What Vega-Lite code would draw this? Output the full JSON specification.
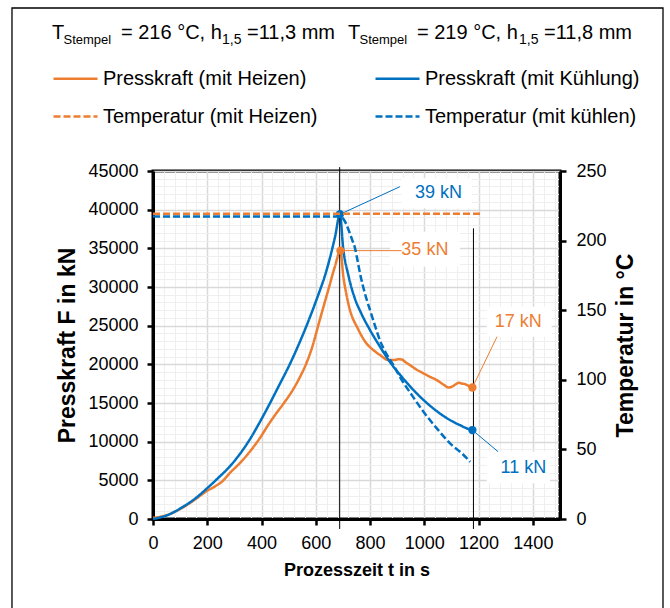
{
  "$schema": "https://vega.github.io/schema/vega-lite/v6.json",
  "width": 407,
  "height": 348,
  "autosize": {"type": "none"},
  "padding": {"left": 153, "top": 171, "right": 110, "bottom": 89},
  "background": "white",
  "config": {
    "font": "Liberation Sans",
    "view": {"stroke": "#000", "strokeWidth": 3},
    "axis": {
      "domainColor": "#000", "domainWidth": 3,
      "tickColor": "#000", "tickWidth": 2.5, "tickSize": 6,
      "labelColor": "#000", "labelFontSize": 18, "labelFont": "Liberation Sans",
      "titleColor": "#000", "titleFontWeight": "bold", "titleFont": "Liberation Sans"
    }
  },
  "datasets": {
    "curves": [
      {"s": "Presskraft (mit Heizen)", "t": 0, "v": 150},
      {"s": "Presskraft (mit Heizen)", "t": 50, "v": 500},
      {"s": "Presskraft (mit Heizen)", "t": 111, "v": 1500},
      {"s": "Presskraft (mit Heizen)", "t": 150, "v": 2400},
      {"s": "Presskraft (mit Heizen)", "t": 199, "v": 3630},
      {"s": "Presskraft (mit Heizen)", "t": 230, "v": 4250},
      {"s": "Presskraft (mit Heizen)", "t": 253, "v": 4790},
      {"s": "Presskraft (mit Heizen)", "t": 284, "v": 5980},
      {"s": "Presskraft (mit Heizen)", "t": 321, "v": 7260},
      {"s": "Presskraft (mit Heizen)", "t": 358, "v": 8760},
      {"s": "Presskraft (mit Heizen)", "t": 394, "v": 10470},
      {"s": "Presskraft (mit Heizen)", "t": 425, "v": 12180},
      {"s": "Presskraft (mit Heizen)", "t": 450, "v": 13460},
      {"s": "Presskraft (mit Heizen)", "t": 480, "v": 14870},
      {"s": "Presskraft (mit Heizen)", "t": 511, "v": 16450},
      {"s": "Presskraft (mit Heizen)", "t": 542, "v": 18380},
      {"s": "Presskraft (mit Heizen)", "t": 566, "v": 20200},
      {"s": "Presskraft (mit Heizen)", "t": 590, "v": 22600},
      {"s": "Presskraft (mit Heizen)", "t": 608, "v": 24900},
      {"s": "Presskraft (mit Heizen)", "t": 628, "v": 27400},
      {"s": "Presskraft (mit Heizen)", "t": 649, "v": 30000},
      {"s": "Presskraft (mit Heizen)", "t": 670, "v": 32600},
      {"s": "Presskraft (mit Heizen)", "t": 691, "v": 34700},
      {"s": "Presskraft (mit Heizen)", "t": 701, "v": 31500},
      {"s": "Presskraft (mit Heizen)", "t": 713, "v": 29000},
      {"s": "Presskraft (mit Heizen)", "t": 726, "v": 27000},
      {"s": "Presskraft (mit Heizen)", "t": 738, "v": 25800},
      {"s": "Presskraft (mit Heizen)", "t": 751, "v": 24900},
      {"s": "Presskraft (mit Heizen)", "t": 770, "v": 23600},
      {"s": "Presskraft (mit Heizen)", "t": 787, "v": 22700},
      {"s": "Presskraft (mit Heizen)", "t": 810, "v": 21900},
      {"s": "Presskraft (mit Heizen)", "t": 837, "v": 21200},
      {"s": "Presskraft (mit Heizen)", "t": 867, "v": 20550},
      {"s": "Presskraft (mit Heizen)", "t": 886, "v": 20550},
      {"s": "Presskraft (mit Heizen)", "t": 905, "v": 20650},
      {"s": "Presskraft (mit Heizen)", "t": 917, "v": 20630},
      {"s": "Presskraft (mit Heizen)", "t": 930, "v": 20300},
      {"s": "Presskraft (mit Heizen)", "t": 947, "v": 19900},
      {"s": "Presskraft (mit Heizen)", "t": 970, "v": 19350},
      {"s": "Presskraft (mit Heizen)", "t": 997, "v": 18830},
      {"s": "Presskraft (mit Heizen)", "t": 1020, "v": 18400},
      {"s": "Presskraft (mit Heizen)", "t": 1046, "v": 17960},
      {"s": "Presskraft (mit Heizen)", "t": 1070, "v": 17400},
      {"s": "Presskraft (mit Heizen)", "t": 1089, "v": 17010},
      {"s": "Presskraft (mit Heizen)", "t": 1101, "v": 17100},
      {"s": "Presskraft (mit Heizen)", "t": 1115, "v": 17400},
      {"s": "Presskraft (mit Heizen)", "t": 1126, "v": 17610},
      {"s": "Presskraft (mit Heizen)", "t": 1140, "v": 17500},
      {"s": "Presskraft (mit Heizen)", "t": 1150, "v": 17440},
      {"s": "Presskraft (mit Heizen)", "t": 1169, "v": 17100},
      {"s": "Presskraft (mit Heizen)", "t": 1177, "v": 17000},

      {"s": "Presskraft (mit Kühlung)", "t": 0, "v": 0},
      {"s": "Presskraft (mit Kühlung)", "t": 50, "v": 450},
      {"s": "Presskraft (mit Kühlung)", "t": 111, "v": 1590},
      {"s": "Presskraft (mit Kühlung)", "t": 150, "v": 2500},
      {"s": "Presskraft (mit Kühlung)", "t": 199, "v": 3960},
      {"s": "Presskraft (mit Kühlung)", "t": 240, "v": 5300},
      {"s": "Presskraft (mit Kühlung)", "t": 283, "v": 6800},
      {"s": "Presskraft (mit Kühlung)", "t": 320, "v": 8400},
      {"s": "Presskraft (mit Kühlung)", "t": 357, "v": 10300},
      {"s": "Presskraft (mit Kühlung)", "t": 390, "v": 12300},
      {"s": "Presskraft (mit Kühlung)", "t": 427, "v": 14700},
      {"s": "Presskraft (mit Kühlung)", "t": 465, "v": 17300},
      {"s": "Presskraft (mit Kühlung)", "t": 504, "v": 20000},
      {"s": "Presskraft (mit Kühlung)", "t": 535, "v": 22400},
      {"s": "Presskraft (mit Kühlung)", "t": 566, "v": 25000},
      {"s": "Presskraft (mit Kühlung)", "t": 603, "v": 28400},
      {"s": "Presskraft (mit Kühlung)", "t": 640, "v": 32200},
      {"s": "Presskraft (mit Kühlung)", "t": 671, "v": 36500},
      {"s": "Presskraft (mit Kühlung)", "t": 689, "v": 39400},
      {"s": "Presskraft (mit Kühlung)", "t": 701, "v": 34970},
      {"s": "Presskraft (mit Kühlung)", "t": 720, "v": 31520},
      {"s": "Presskraft (mit Kühlung)", "t": 744, "v": 28510},
      {"s": "Presskraft (mit Kühlung)", "t": 766, "v": 26700},
      {"s": "Presskraft (mit Kühlung)", "t": 800, "v": 24420},
      {"s": "Presskraft (mit Kühlung)", "t": 837, "v": 22260},
      {"s": "Presskraft (mit Kühlung)", "t": 873, "v": 20320},
      {"s": "Presskraft (mit Kühlung)", "t": 917, "v": 18380},
      {"s": "Presskraft (mit Kühlung)", "t": 972, "v": 16240},
      {"s": "Presskraft (mit Kühlung)", "t": 1033, "v": 14300},
      {"s": "Presskraft (mit Kühlung)", "t": 1095, "v": 12790},
      {"s": "Presskraft (mit Kühlung)", "t": 1131, "v": 12140},
      {"s": "Presskraft (mit Kühlung)", "t": 1162, "v": 11650},
      {"s": "Presskraft (mit Kühlung)", "t": 1177, "v": 11500},

      {"s": "Temperatur (mit Heizen)", "t": 0, "v": 219.3},
      {"s": "Temperatur (mit Heizen)", "t": 1205, "v": 219.3},

      {"s": "Temperatur (mit kühlen)", "t": 0, "v": 217.3},
      {"s": "Temperatur (mit kühlen)", "t": 690, "v": 217.3},
      {"s": "Temperatur (mit kühlen)", "t": 700, "v": 216},
      {"s": "Temperatur (mit kühlen)", "t": 712, "v": 212},
      {"s": "Temperatur (mit kühlen)", "t": 724, "v": 206},
      {"s": "Temperatur (mit kühlen)", "t": 735, "v": 200},
      {"s": "Temperatur (mit kühlen)", "t": 744, "v": 195},
      {"s": "Temperatur (mit kühlen)", "t": 754, "v": 185.5},
      {"s": "Temperatur (mit kühlen)", "t": 763, "v": 176.5},
      {"s": "Temperatur (mit kühlen)", "t": 781, "v": 162},
      {"s": "Temperatur (mit kühlen)", "t": 800, "v": 150},
      {"s": "Temperatur (mit kühlen)", "t": 818, "v": 139},
      {"s": "Temperatur (mit kühlen)", "t": 837, "v": 128},
      {"s": "Temperatur (mit kühlen)", "t": 855, "v": 120.5},
      {"s": "Temperatur (mit kühlen)", "t": 886, "v": 110.5},
      {"s": "Temperatur (mit kühlen)", "t": 917, "v": 99.8},
      {"s": "Temperatur (mit kühlen)", "t": 954, "v": 89},
      {"s": "Temperatur (mit kühlen)", "t": 997, "v": 77},
      {"s": "Temperatur (mit kühlen)", "t": 1046, "v": 65.1},
      {"s": "Temperatur (mit kühlen)", "t": 1095, "v": 54.3},
      {"s": "Temperatur (mit kühlen)", "t": 1138, "v": 47.2},
      {"s": "Temperatur (mit kühlen)", "t": 1169, "v": 41.1}
    ],
    "peaks": [
      {"s": "Presskraft (mit Kühlung)", "t": 689, "v": 39400},
      {"s": "Presskraft (mit Heizen)", "t": 691, "v": 34700},
      {"s": "Presskraft (mit Heizen)", "t": 1177, "v": 17000},
      {"s": "Presskraft (mit Kühlung)", "t": 1177, "v": 11500}
    ],
    "callouts": [
      {"s": "Presskraft (mit Kühlung)", "label": "39 kN", "t": 1052, "v": 42155, "bt": 916.6, "bt2": 1174.6, "bv": 40177, "bv2": 44056, "lt": 689, "lv": 39400, "lt2": 910, "lv2": 42970},
      {"s": "Presskraft (mit Heizen)", "label": "35 kN", "t": 1002, "v": 34784, "bt": 873.5, "bt2": 1131.5, "bv": 32625, "bv2": 37151, "lt": 691, "lv": 34700, "lt2": 916, "lv2": 34700},
      {"s": "Presskraft (mit Heizen)", "label": "17 kN", "t": 1346, "v": 25513, "bt": 1229.8, "bt2": 1469.4, "bv": 23573, "bv2": 27452, "lt": 1177, "lv": 17000, "lt2": 1268, "lv2": 23573},
      {"s": "Presskraft (mit Kühlung)", "label": "11 kN", "t": 1365, "v": 6556, "bt": 1229.8, "bt2": 1463.1, "bv": 4616, "bv2": 8703, "lt": 1177, "lv": 11500, "lt2": 1272, "lv2": 8703}
    ],
    "cursors": [
      {"t": 688, "v": -1290, "v2": 45500},
      {"t": 1181, "v": -1290, "v2": 37590}
    ]
  },
  "layer": [
    {
      "layer": [
        {
          "data": {"name": "curves"},
          "transform": [{"filter": {"field": "s", "oneOf": ["Presskraft (mit Heizen)", "Presskraft (mit Kühlung)"]}}],
          "mark": {"type": "line", "interpolate": "monotone", "strokeWidth": 2.5},
          "encoding": {
            "x": {
              "field": "t", "type": "quantitative",
              "scale": {"domain": [0, 1500], "nice": false},
              "axis": {
                "values": [0, 40, 80, 120, 160, 200, 240, 280, 320, 360, 400, 440, 480, 520, 560, 600, 640, 680, 720, 760, 800, 840, 880, 920, 960, 1000, 1040, 1080, 1120, 1160, 1200, 1240, 1280, 1320, 1360, 1400, 1440, 1480],
                "tickCount": 200,
                "format": "d",
                "labelExpr": "datum.value % 200 === 0 ? datum.label : ''",
                "labelOverlap": false,
                "labelFlush": false,
                "grid": true,
                "gridColor": {"condition": {"test": "datum.value % 200 === 0", "value": "#d9d9d9"}, "value": "#efefef"},
                "gridWidth": {"condition": {"test": "datum.value % 200 === 0", "value": 1.5}, "value": 1},
                "tickOpacity": {"condition": {"test": "datum.value % 200 === 0", "value": 1}, "value": 0},
                "labelPadding": 9,
                "title": "Prozesszeit t in s",
                "titleFontSize": 18,
                "titlePadding": 9
              }
            },
            "y": {
              "field": "v", "type": "quantitative",
              "scale": {"domain": [0, 45000], "nice": false},
              "axis": {
                "orient": "left",
                "values": [0, 1000, 2000, 3000, 4000, 5000, 6000, 7000, 8000, 9000, 10000, 11000, 12000, 13000, 14000, 15000, 16000, 17000, 18000, 19000, 20000, 21000, 22000, 23000, 24000, 25000, 26000, 27000, 28000, 29000, 30000, 31000, 32000, 33000, 34000, 35000, 36000, 37000, 38000, 39000, 40000, 41000, 42000, 43000, 44000, 45000],
                "tickCount": 200,
                "format": "d",
                "labelExpr": "datum.value % 5000 === 0 ? datum.label : ''",
                "labelOverlap": false,
                "grid": true,
                "gridColor": {"condition": {"test": "datum.value % 5000 === 0", "value": "#d9d9d9"}, "value": "#efefef"},
                "gridWidth": {"condition": {"test": "datum.value % 5000 === 0", "value": 1.5}, "value": 1},
                "tickOpacity": {"condition": {"test": "datum.value % 5000 === 0", "value": 1}, "value": 0},
                "labelPadding": 9,
                "title": "Presskraft F in kN",
                "titleFontSize": 23,
                "titlePadding": 8
              }
            },
            "color": {
              "field": "s", "type": "nominal",
              "scale": {
                "domain": ["Presskraft (mit Heizen)", "Temperatur (mit Heizen)", "Presskraft (mit Kühlung)", "Temperatur (mit kühlen)"],
                "range": ["#ED7D31", "#ED7D31", "#0070C0", "#0070C0"]
              },
              "legend": {
                "title": null, "orient": "none", "legendX": -101, "legendY": -116, "columns": 2,
                "symbolType": "stroke", "symbolSize": 1936, "symbolStrokeWidth": 2.5,
                "labelFontSize": 20, "labelColor": "#000", "labelOffset": 4, "labelLimit": 400,
                "rowPadding": 4, "columnPadding": 52, "padding": 0, "offset": 0
              }
            },
            "strokeDash": {
              "field": "s", "type": "nominal",
              "scale": {
                "domain": ["Presskraft (mit Heizen)", "Temperatur (mit Heizen)", "Presskraft (mit Kühlung)", "Temperatur (mit kühlen)"],
                "range": [[1, 0], [7, 3], [1, 0], [7, 3]]
              },
              "legend": {
                "title": null, "orient": "none", "legendX": -101, "legendY": -116, "columns": 2,
                "symbolType": "stroke", "symbolSize": 1936, "symbolStrokeWidth": 2.5,
                "labelFontSize": 20, "labelColor": "#000", "labelOffset": 4, "labelLimit": 400,
                "rowPadding": 4, "columnPadding": 52, "padding": 0, "offset": 0
              }
            }
          }
        },
        {
          "data": {"values": [{}]},
          "mark": {"type": "rect", "filled": false, "stroke": "#000", "strokeWidth": 1.3},
          "encoding": {
            "x": {"datum": -519.7, "type": "quantitative"},
            "x2": {"datum": 1879.6},
            "y": {"datum": 66077, "type": "quantitative"},
            "y2": {"datum": -13060}
          }
        },
        {
          "data": {"values": [{}]},
          "mark": {"type": "text", "text": "T", "fontSize": 20, "align": "left", "baseline": "alphabetic", "color": "#000"},
          "encoding": {"x": {"datum": -372.2, "type": "quantitative"}, "y": {"datum": 62069, "type": "quantitative"}}
        },
        {
          "data": {"values": [{}]},
          "mark": {"type": "text", "text": "Stempel", "fontSize": 13, "align": "left", "baseline": "alphabetic", "color": "#000"},
          "encoding": {"x": {"datum": -329.9, "type": "quantitative"}, "y": {"datum": 61422, "type": "quantitative"}}
        },
        {
          "data": {"values": [{}]},
          "mark": {"type": "text", "text": "= 216 °C, h", "fontSize": 20, "align": "left", "baseline": "alphabetic", "color": "#000"},
          "encoding": {"x": {"datum": -117.9, "type": "quantitative"}, "y": {"datum": 62069, "type": "quantitative"}}
        },
        {
          "data": {"values": [{}]},
          "mark": {"type": "text", "text": "1,5", "fontSize": 14, "align": "left", "baseline": "alphabetic", "color": "#000"},
          "encoding": {"x": {"datum": 254.3, "type": "quantitative"}, "y": {"datum": 61422, "type": "quantitative"}}
        },
        {
          "data": {"values": [{}]},
          "mark": {"type": "text", "text": "=11,3 mm", "fontSize": 20, "align": "left", "baseline": "alphabetic", "color": "#000"},
          "encoding": {"x": {"datum": 346.4, "type": "quantitative"}, "y": {"datum": 62069, "type": "quantitative"}}
        },
        {
          "data": {"values": [{}]},
          "mark": {"type": "text", "text": "T", "fontSize": 20, "align": "left", "baseline": "alphabetic", "color": "#000"},
          "encoding": {"x": {"datum": 718.7, "type": "quantitative"}, "y": {"datum": 62069, "type": "quantitative"}}
        },
        {
          "data": {"values": [{}]},
          "mark": {"type": "text", "text": "Stempel", "fontSize": 13, "align": "left", "baseline": "alphabetic", "color": "#000"},
          "encoding": {"x": {"datum": 761.1, "type": "quantitative"}, "y": {"datum": 61422, "type": "quantitative"}}
        },
        {
          "data": {"values": [{}]},
          "mark": {"type": "text", "text": "= 219 °C, h", "fontSize": 20, "align": "left", "baseline": "alphabetic", "color": "#000"},
          "encoding": {"x": {"datum": 973.0, "type": "quantitative"}, "y": {"datum": 62069, "type": "quantitative"}}
        },
        {
          "data": {"values": [{}]},
          "mark": {"type": "text", "text": "1,5", "fontSize": 14, "align": "left", "baseline": "alphabetic", "color": "#000"},
          "encoding": {"x": {"datum": 1348.9, "type": "quantitative"}, "y": {"datum": 61422, "type": "quantitative"}}
        },
        {
          "data": {"values": [{}]},
          "mark": {"type": "text", "text": "=11,8 mm", "fontSize": 20, "align": "left", "baseline": "alphabetic", "color": "#000"},
          "encoding": {"x": {"datum": 1441.0, "type": "quantitative"}, "y": {"datum": 62069, "type": "quantitative"}}
        },
        {
          "data": {"name": "callouts"},
          "mark": {"type": "rect", "fill": "white"},
          "encoding": {
            "x": {"field": "bt", "type": "quantitative"},
            "x2": {"field": "bt2"},
            "y": {"field": "bv", "type": "quantitative"},
            "y2": {"field": "bv2"}
          }
        },
        {
          "data": {"name": "cursors"},
          "mark": {"type": "rule", "color": "#000", "strokeWidth": 1},
          "encoding": {
            "x": {"field": "t", "type": "quantitative"},
            "y": {"field": "v", "type": "quantitative"},
            "y2": {"field": "v2"}
          }
        },
        {
          "data": {"name": "callouts"},
          "mark": {"type": "rule", "strokeWidth": 1},
          "encoding": {
            "x": {"field": "lt", "type": "quantitative"},
            "x2": {"field": "lt2"},
            "y": {"field": "lv", "type": "quantitative"},
            "y2": {"field": "lv2"},
            "color": {"field": "s", "type": "nominal", "legend": null}
          }
        },
        {
          "data": {"name": "peaks"},
          "mark": {"type": "point", "filled": true, "opacity": 1, "size": 70},
          "encoding": {
            "x": {"field": "t", "type": "quantitative"},
            "y": {"field": "v", "type": "quantitative"},
            "color": {"field": "s", "type": "nominal", "legend": null}
          }
        },
        {
          "data": {"name": "callouts"},
          "mark": {"type": "text", "fontSize": 18, "align": "center", "baseline": "middle"},
          "encoding": {
            "x": {"field": "t", "type": "quantitative"},
            "y": {"field": "v", "type": "quantitative"},
            "text": {"field": "label"},
            "color": {"field": "s", "type": "nominal", "legend": null}
          }
        }
      ]
    },
    {
      "data": {"name": "curves"},
      "transform": [{"filter": {"field": "s", "oneOf": ["Temperatur (mit Heizen)", "Temperatur (mit kühlen)"]}}],
      "mark": {"type": "line", "interpolate": "monotone", "strokeWidth": 2.5},
      "encoding": {
        "x": {"field": "t", "type": "quantitative"},
        "y": {
          "field": "v", "type": "quantitative",
          "scale": {"domain": [0, 250], "nice": false},
          "axis": {
            "orient": "right",
            "values": [0, 50, 100, 150, 200, 250],
            "grid": false,
            "labelPadding": 10,
            "title": "Temperatur in °C",
            "titleFontSize": 23,
            "titleAngle": 270,
            "titleBaseline": "top",
            "titlePadding": 8
          }
        },
        "color": {"field": "s", "type": "nominal", "legend": null},
        "strokeDash": {"field": "s", "type": "nominal", "legend": null}
      }
    }
  ],
  "resolve": {"scale": {"y": "independent"}}
}
